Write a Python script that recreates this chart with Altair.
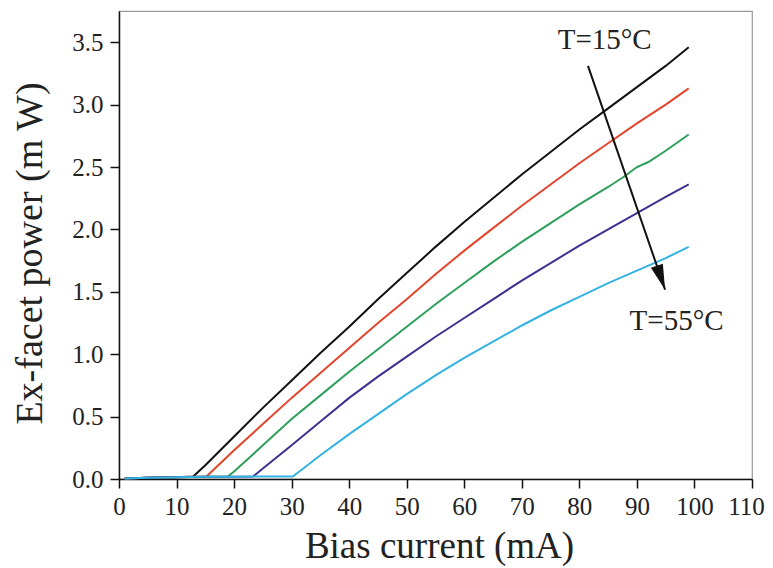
import altair as alt
import pandas as pd

# ---- data ----
temps = ["15°C", "25°C", "35°C", "45°C", "55°C"]
colors = ["#111111", "#e2452c", "#2f9f5c", "#3c3191", "#33b2e3"]

black_x = [1, 5, 10, 12.9, 15, 20, 25, 30, 35, 40, 45, 50, 55, 60, 65, 70, 75, 80, 85, 90, 95, 99]
black_y = [0.005, 0.01, 0.015, 0.02, 0.11, 0.34, 0.57, 0.79, 1.01, 1.22, 1.44, 1.65, 1.86, 2.06,
           2.25, 2.44, 2.62, 2.80, 2.97, 3.14, 3.31, 3.46]
red_x = [1, 5, 10, 15.2, 20, 25, 30, 35, 40, 45, 50, 55, 60, 65, 70, 75, 80, 85, 90, 95, 99]
red_y = [0.005, 0.01, 0.015, 0.02, 0.23, 0.44, 0.65, 0.85, 1.05, 1.25, 1.44, 1.64, 1.83, 2.01,
         2.19, 2.36, 2.53, 2.69, 2.85, 3.00, 3.13]
green_x = [1, 5, 10, 15, 18.9, 20, 25, 30, 35, 40, 45, 50, 55, 60, 65, 70, 75, 80, 85, 88, 90, 92, 95, 99]
green_y = [0.005, 0.01, 0.015, 0.018, 0.02, 0.06, 0.27, 0.48, 0.67, 0.86, 1.04, 1.22, 1.40, 1.57,
           1.74, 1.90, 2.05, 2.20, 2.34, 2.43, 2.50, 2.54, 2.63, 2.76]
purple_x = [1, 5, 10, 15, 20, 23.3, 25, 30, 35, 40, 45, 50, 55, 60, 65, 70, 75, 80, 85, 90, 95, 99]
purple_y = [0.005, 0.01, 0.015, 0.018, 0.019, 0.02, 0.084, 0.27, 0.46, 0.65, 0.82, 0.98, 1.14, 1.29,
            1.44, 1.59, 1.73, 1.87, 2.00, 2.13, 2.26, 2.36]
cyan_x = [1, 5, 10, 15, 20, 25, 30.2, 35, 40, 45, 50, 55, 60, 65, 70, 75, 80, 85, 90, 95, 99]
cyan_y = [0.005, 0.01, 0.015, 0.018, 0.019, 0.02, 0.02, 0.19, 0.36, 0.52, 0.68, 0.83, 0.97, 1.10,
          1.23, 1.35, 1.46, 1.57, 1.67, 1.77, 1.86]

x_ticks = list(range(0, 111, 5))
y_ticks = [i * 0.25 for i in range(0, 15)]

arrow_x = [81.5, 94.9]
arrow_y = [3.31, 1.517]
label_text = ["T=15°C", "T=55°C"]
label_x = [84.4, 96.9]
label_y = [3.443, 1.196]

series = [black_x, red_x, green_x, purple_x, cyan_x]
values = [black_y, red_y, green_y, purple_y, cyan_y]
rows = []
for t, xs, ys in zip(temps, series, values):
    for a, b in zip(xs, ys):
        rows.append({"T": t, "I": a, "P": b})
df = pd.DataFrame(rows)
arrow_df = pd.DataFrame({"I": arrow_x, "P": arrow_y})
tip_df = pd.DataFrame({"I": [arrow_x[1]], "P": [arrow_y[1]]})
lab_df = pd.DataFrame({"I": label_x, "P": label_y, "text": label_text})

FONT = "Liberation Serif"

x_scale = alt.Scale(domain=[0, 110], nice=False, zero=False)
y_scale = alt.Scale(domain=[0, 3.75], nice=False, zero=False)

x_enc = alt.X(
    "I:Q",
    scale=x_scale,
    axis=alt.Axis(
        values=x_ticks,
        title="Bias current (mA)",
        labelExpr="datum.value % 10 ? '' : datum.label",
        labelOverlap=False,
        labelFlush=False,
        tickSize={"condition": {"test": "datum.value % 10 !== 0", "value": 5}, "value": 9},
        labelOffset={"condition": {"test": "datum.value === 110", "value": -6}, "value": 0},
        labelPadding=6,
        titleX=320,
        titleY=78,
        titleAlign="center",
        titleBaseline="alphabetic",
        titleFontSize=37,
    ),
)
y_enc = alt.Y(
    "P:Q",
    scale=y_scale,
    axis=alt.Axis(
        values=y_ticks,
        title="Ex-facet power (m W)",
        labelExpr="datum.value % 0.5 ? '' : format(datum.value, '.1f')",
        labelOverlap=False,
        labelFlush=False,
        tickSize={"condition": {"test": "datum.value % 0.5 !== 0", "value": 5}, "value": 9},
        labelPadding=7,
        titleX=-78,
        titleY=242,
        titleAngle=-90,
        titleAlign="center",
        titleBaseline="alphabetic",
        titleFontSize=38,
    ),
)

lines = alt.Chart(df).mark_line(strokeWidth=2).encode(
    x=x_enc,
    y=y_enc,
    color=alt.Color("T:N", scale=alt.Scale(domain=temps, range=colors), legend=None),
)

arrow = alt.Chart(arrow_df).mark_line(color="#111111", strokeWidth=2).encode(
    x=alt.X("I:Q", scale=x_scale), y=alt.Y("P:Q", scale=y_scale)
)
tip = alt.Chart(tip_df).mark_point(
    shape="M0,0 L-0.4,1.6 L0.4,1.6 Z",
    filled=True,
    color="#111111",
    opacity=1,
    size=1000,
    angle=161,
).encode(x=alt.X("I:Q", scale=x_scale), y=alt.Y("P:Q", scale=y_scale))

labels = alt.Chart(lab_df).mark_text(
    font=FONT, fontSize=29, color="#222222", align="center", baseline="alphabetic"
).encode(x=alt.X("I:Q", scale=x_scale), y=alt.Y("P:Q", scale=y_scale), text="text:N")

chart = (
    alt.layer(lines, arrow, tip, labels)
    .properties(
        width=633,
        height=468,
        autosize=alt.AutoSizeParams(type="none"),
        padding={"left": 111, "top": 3, "right": 13, "bottom": 89},
    )
    .configure_view(stroke="#9a9a9a", strokeWidth=1.2)
    .configure_axis(
        grid=False,
        domainColor="#111111",
        domainWidth=1.5,
        tickColor="#111111",
        tickWidth=1.5,
        labelFont=FONT,
        labelFontSize=25,
        labelColor="#222222",
        titleFont=FONT,
        titleFontWeight="normal",
        titleColor="#222222",
    )
)

chart.save("out.html", embed_options={"renderer": "svg", "actions": False})
